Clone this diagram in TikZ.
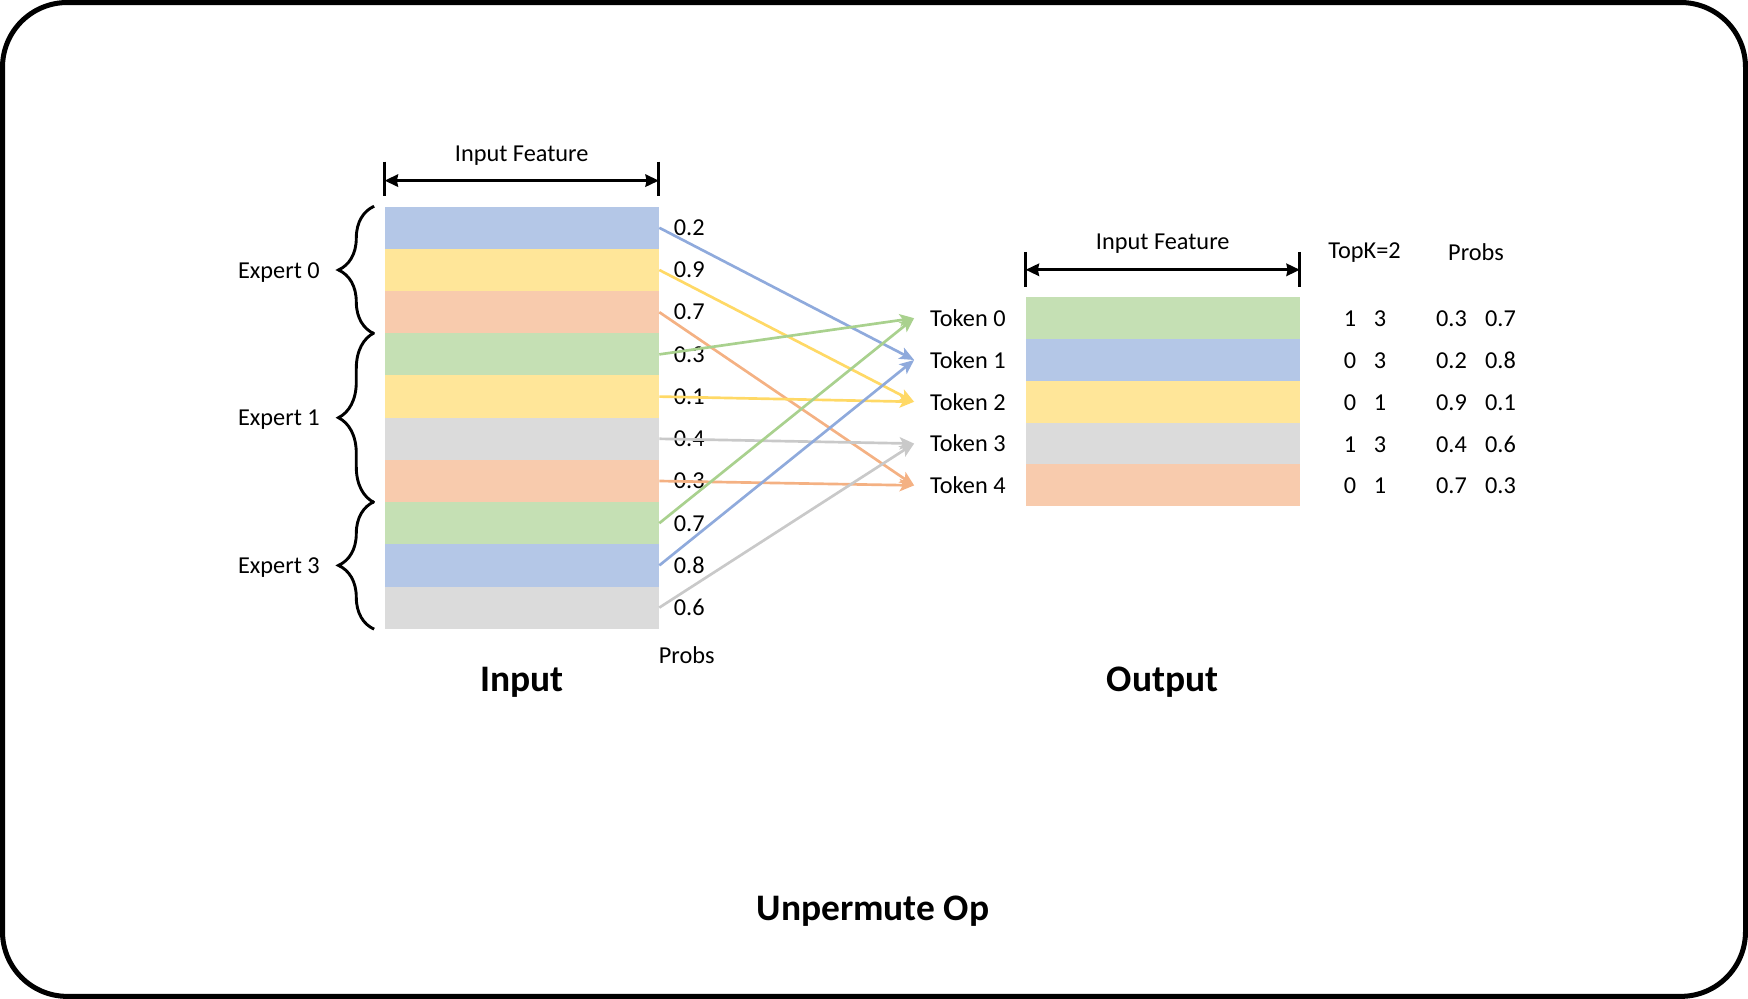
\documentclass[tikz,border=0pt]{standalone}
\usepackage{fontspec}
\setmainfont{Carlito}
\usetikzlibrary{arrows.meta,decorations.pathreplacing}
\definecolor{barblue}{HTML}{B4C7E7}
\definecolor{baryellow}{HTML}{FFE699}
\definecolor{barorange}{HTML}{F8CBAD}
\definecolor{bargreen}{HTML}{C5E0B4}
\definecolor{bargray}{HTML}{DBDBDB}
\definecolor{lineblue}{HTML}{8FAADC}
\definecolor{lineyellow}{HTML}{FFD966}
\definecolor{lineorange}{HTML}{F4B183}
\definecolor{linegreen}{HTML}{A9D18E}
\definecolor{linegray}{HTML}{C9C9C9}

\tikzset{
  bar/.style={rectangle, inner sep=0pt, minimum width=123pt, minimum height=18.93pt},
  conn/.style={line width=1.2pt, -{Stealth[length=6.5pt,width=5.5pt,inset=1.5pt]}},
  dim/.style={line width=1.3pt, {Stealth[length=6pt,width=5.5pt,inset=0.5pt]}-{Stealth[length=6pt,width=5.5pt,inset=0.5pt]}},
  tick/.style={line width=1.3pt},
  expbrace/.style={decorate, decoration={brace, amplitude=16pt}, line width=1.3pt},
  title/.style={font=\bfseries\fontsize{16.8}{20}\selectfont}
}

\begin{document}
\begin{tikzpicture}[x=0.5pt, y=-0.5pt, every node/.style={font=\fontsize{10.9}{13}\selectfont}]

\useasboundingbox (0,0) rectangle (1568,896);
\draw[line width=2.25pt, rounded corners=29pt] (2.25,2.25) rectangle (1565.75,893.75);

% input rows
\foreach \c [count=\i from 0] in {barblue,baryellow,barorange,bargreen,baryellow,bargray,barorange,bargreen,barblue,bargray}
  \node[bar, fill=\c] (in\i) at (468, 204.3+37.86*\i) {};

\foreach \p [count=\i from 0] in {0.2,0.9,0.7,0.3,0.1,0.4,0.3,0.7,0.8,0.6}
  \node[anchor=west, xshift=3pt] (pr\i) at (in\i.east) {\p};

\node (inprobs) at (616, 588) {Probs};

% input feature width
\coordinate (inL) at (345,162);
\coordinate (inR) at (591,162);
\draw[tick] (345,145) -- (345,176);
\draw[tick] (591,145) -- (591,176);
\draw[dim] (inL) -- (inR);
\node (infeat) at (468,140) {Input Feature};

% experts
\draw[expbrace] ([xshift=-4.5pt]in2.south west) -- ([xshift=-4.5pt]in0.north west) node[midway, left=20.4pt, yshift=-1pt] (ex0) {Expert 0};
\draw[expbrace] ([xshift=-4.5pt]in6.south west) -- ([xshift=-4.5pt]in3.north west) node[midway, left=20.4pt, yshift=-1pt] (ex1) {Expert 1};
\draw[expbrace] ([xshift=-4.5pt]in9.south west) -- ([xshift=-4.5pt]in7.north west) node[midway, left=20.4pt, yshift=-1pt] (ex3) {Expert 3};

% output rows
\foreach \c [count=\i from 0] in {bargreen,barblue,baryellow,bargray,barorange}
  \node[bar, minimum height=18.75pt, fill=\c] (out\i) at (1043, 285.4+37.5*\i) {};

\foreach \i in {0,...,4}
  \node[anchor=west, inner xsep=7pt] (t\i) at (820, 285.4+37.5*\i) {Token \i};

\coordinate (outL) at (920,242);
\coordinate (outR) at (1166,242);
\draw[tick] (920,226) -- (920,257);
\draw[tick] (1166,226) -- (1166,257);
\draw[dim] (outL) -- (outR);
\node (outfeat) at (1043,219) {Input Feature};

\node (topk) at (1224,227) {TopK=2};
\node (outprobs) at (1324,226) {Probs};

\foreach \a/\b/\p/\q [count=\i from 0] in {1/3/0.3/0.7, 0/3/0.2/0.8, 0/1/0.9/0.1, 1/3/0.4/0.6, 0/1/0.7/0.3} {
  \node (ka\i) at (1211, 286+37.5*\i) {\a};
  \node (kb\i) at (1238, 286+37.5*\i) {\b};
  \node (pa\i) at (1302, 286+37.5*\i) {\p};
  \node (pb\i) at (1346, 286+37.5*\i) {\q};
}

% unpermute
\foreach \i/\j/\c in {0/1/lineblue, 1/2/lineyellow, 2/4/lineorange, 3/0/linegreen, 4/2/lineyellow, 5/3/linegray, 6/4/lineorange, 7/0/linegreen, 8/1/lineblue, 9/3/linegray}
  \draw[conn, draw=\c] (in\i.east) -- (t\j.west);

\node[title] (intitle) at (468,612) {Input};
\node[title] (outtitle) at (1043,612) {Output};
\node[title] (optitle) at (783,817) {Unpermute Op};

\end{tikzpicture}
\end{document}
